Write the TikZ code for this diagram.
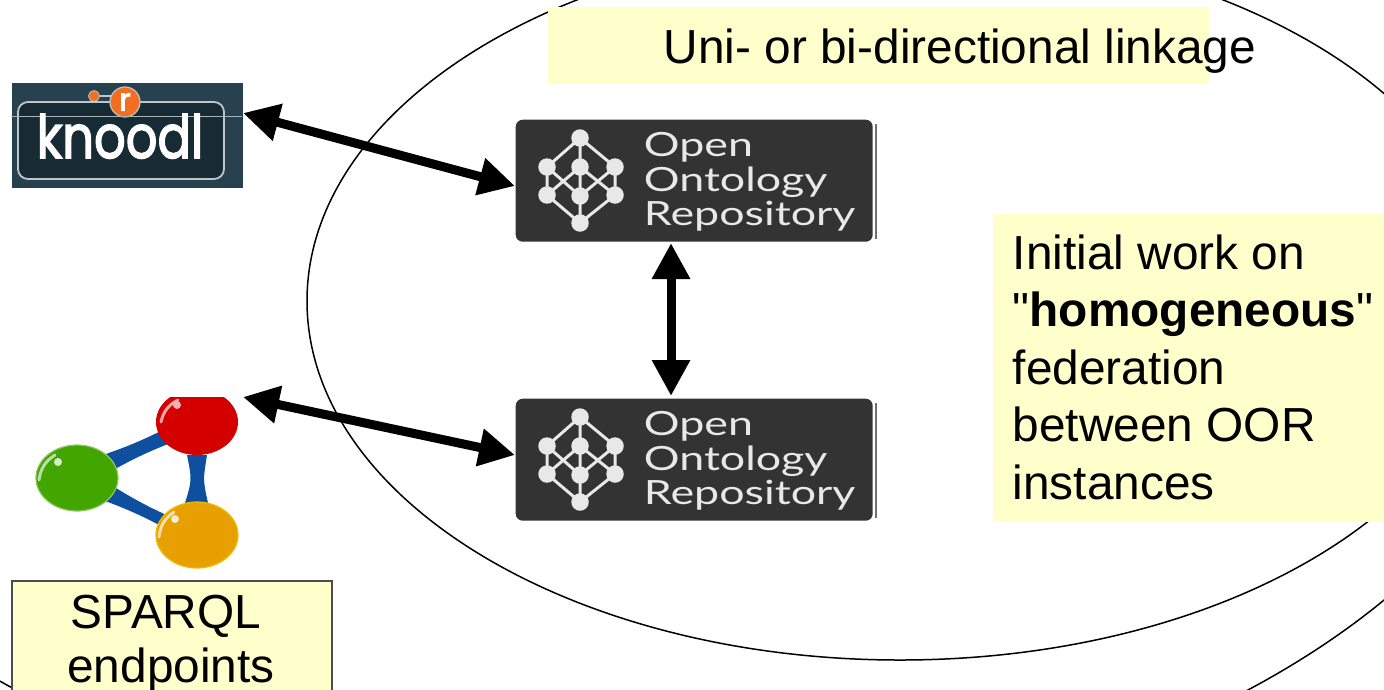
\documentclass[tikz,border=0pt]{standalone}
\usepackage{fontspec}
\setmainfont{Liberation Sans}
\newfontfamily\plainfont{Liberation Sans}
\newfontfamily\oorfont{Lato}
\newfontfamily\knoodlfont[FakeBold=2.6]{Poppins}
\usetikzlibrary{arrows.meta, positioning, shapes.geometric}

\definecolor{notebg}{HTML}{FFFFCC}
\definecolor{oorbg}{HTML}{333333}
\definecolor{oortext}{HTML}{E8E8E8}
\definecolor{knoodlbg}{HTML}{27414F}
\definecolor{knoodlin}{HTML}{172B35}
\definecolor{knoodlor}{HTML}{F26F21}
\definecolor{linkblue}{HTML}{0E4FA0}
\definecolor{ballred}{HTML}{D40000}
\definecolor{ballgreen}{HTML}{43A500}
\definecolor{ballorange}{HTML}{E8A000}

\tikzset{
  note/.style={fill=notebg, inner sep=0pt, anchor=north west},
  notetext/.style={font=\fontsize{13.6pt}{16.4pt}\selectfont, inner sep=0pt},
  link/.style={line width=0.09cm, {Triangle[length=0.36cm,width=0.36cm]}-{Triangle[length=0.36cm,width=0.36cm]}},
  oordot/.style={circle, fill=oortext, inner sep=0pt, minimum size=0.175cm},
  ball/.style={ellipse, minimum width=0.82cm, minimum height=0.66cm, inner sep=0pt},
  shine/.style={line width=0.03cm, line cap=round},
}

\begin{document}
\begin{tikzpicture}

  \useasboundingbox (0,0) rectangle (13.84,6.89);
  \clip (0,0) rectangle (13.84,6.89);

  % Ellipses
  \draw[line width=0.015cm] (6.32,4.29) ellipse [x radius=9.36, y radius=5.71];
  \draw[line width=0.015cm] (9.00,3.88) ellipse [x radius=5.93, y radius=3.59];

  % Notes
  \node[note, minimum width=6.61cm, minimum height=0.77cm] (linkbox) at (5.47,6.83) {};
  \node[notetext, anchor=base west] (linktext) at (6.63,6.26) {Uni- or bi-directional linkage};

  \node[note, minimum width=3.92cm, minimum height=3.08cm] (workbox) at (9.92,4.76) {};
  \node[notetext, anchor=north west, align=left, font=\fontsize{13.6pt}{16.35pt}\selectfont] (worktext) at (10.12,4.55)
    {Initial work on\\{\plainfont"}\textbf{homogeneous}{\plainfont"}\\federation\\between OOR\\instances};

  % knoodl logo
  \node[fill=knoodlbg, inner sep=0pt, minimum width=2.31cm, minimum height=1.05cm, anchor=north west] (knoodl) at (0.11,6.07) {};
  \draw[fill=knoodlin, draw=white!70!knoodlbg, line width=0.018cm, rounded corners=0.1cm] (0.18,5.87) rectangle (2.24,5.10);
  \draw[white!70!knoodlbg, line width=0.02cm] (0.94,5.93) -- (1.25,5.93);
  \node[circle, fill=knoodlor, draw=white!70!knoodlbg, line width=0.008cm, inner sep=0pt, minimum size=0.11cm] (smalldot) at (0.94,5.93) {};
  \node[circle, fill=knoodlor, draw=white!70!knoodlbg, line width=0.012cm, inner sep=0pt, minimum size=0.30cm, font=\knoodlfont\fontsize{9pt}{9pt}\selectfont, text=white] (bigdot) at (1.25,5.87) {r};
  \draw[white!60!knoodlbg, line width=0.008cm] (0.11,5.73) -- (2.42,5.73);
  \node[font=\knoodlfont\fontsize{17pt}{17pt}\selectfont, text=white, inner sep=0pt, anchor=base, xscale=0.83, transform shape] (knoodlname) at (1.20,5.31) {knoodl};

  % OOR logos
  \foreach \n/\dy in {1/0, 2/-2.79} {
    \begin{scope}[yshift=\dy cm]
      \node[fill=oorbg, rounded corners=0.07cm, inner sep=0pt, minimum width=3.57cm, minimum height=1.22cm, anchor=north west] (oor\n) at (5.15,5.70) {};
      \draw[oorbg!70, line width=0.015cm] (8.76,5.65) -- (8.76,4.50);
      \coordinate (a) at (5.80,5.51);
      \coordinate (b) at (5.47,5.22);
      \coordinate (c) at (5.80,5.22);
      \coordinate (d) at (6.15,5.22);
      \coordinate (e) at (5.47,4.94);
      \coordinate (f) at (5.80,4.93);
      \coordinate (g) at (6.15,4.94);
      \coordinate (h) at (5.80,4.66);
      \draw[oortext, line width=0.03cm] (a) -- (b) -- (e) -- (h) -- (g) -- (d) -- (a) -- (h)
        (b) -- (f) -- (d) (e) -- (c) -- (g);
      \foreach \p in {a,b,c,d,e,f,g,h}
        \node[oordot] at (\p) {};
      \node[text=oortext, anchor=north west, align=left, inner sep=0pt, xscale=1.34, transform shape, font=\oorfont\fontsize{9.5pt}{9.75pt}\selectfont] (oortext\n) at (6.43,5.57) {Open\\Ontology\\Repository};
    \end{scope}
  }

  % SPARQL logo
  \fill[linkblue] (0.97,2.32) to[bend right=4] (1.67,2.61) -- (1.73,2.47) to[bend right=4] (1.08,2.16) -- cycle;
  \fill[linkblue] (1.08,2.06) to[bend right=4] (1.73,1.71) -- (1.67,1.60) to[bend right=4] (0.97,1.91) -- cycle;
  \fill[linkblue] (1.87,2.34) .. controls (1.92,2.09) .. (1.85,1.86) -- (2.08,1.86) .. controls (2.03,2.09) .. (2.07,2.34) -- cycle;
  \begin{scope}
    \clip (0,0) rectangle (13.84,2.92);
    \node[ball, fill=ballred] (redball) at (1.97,2.67) {};
    \draw[shine, white!65!ballred] (1.61,2.67) to[bend left=25] (1.78,2.89);
    \fill[white!70!ballred] (1.77,2.84) circle [radius=0.04];
  \end{scope}
  \node[ball, fill=ballgreen, draw=ballgreen!60!white, line width=0.012cm] (greenball) at (0.77,2.11) {};
  \draw[shine, white!65!ballgreen] (0.39,2.09) to[bend left=25] (0.55,2.34);
  \fill[white!80!ballgreen] (0.58,2.27) circle [radius=0.04];
  \node[ball, fill=ballorange, draw=ballorange!70!yellow, line width=0.012cm] (orangeball) at (1.97,1.54) {};
  \draw[shine, white!65!ballorange] (1.59,1.52) to[bend left=25] (1.74,1.77);
  \fill[white!80!ballorange] (1.75,1.70) circle [radius=0.04];

  \node[note, draw=black!70, line width=0.016cm, minimum width=3.20cm, minimum height=1.2cm] (sparqlbox) at (0.11,1.09) {};
  \node[notetext, anchor=base] (sparqltext) at (1.66,0.61) {SPARQL};
  \node[notetext, anchor=base] (endpointtext) at (1.71,0.07) {endpoints};

  % Links
  \coordinate (knoodlport) at (2.43,5.76);
  \coordinate (oorport) at (5.15,5.03);
  \coordinate (sparqlport) at (2.43,2.92);
  \coordinate (oorportb) at (5.15,2.34);
  \coordinate (oorup) at (6.71,4.46);
  \coordinate (oordown) at (6.71,2.93);
  \draw[link] (knoodlport) -- (oorport);
  \draw[link] (sparqlport) -- (oorportb);
  \draw[link] (oorup) -- (oordown);

\end{tikzpicture}
\end{document}
